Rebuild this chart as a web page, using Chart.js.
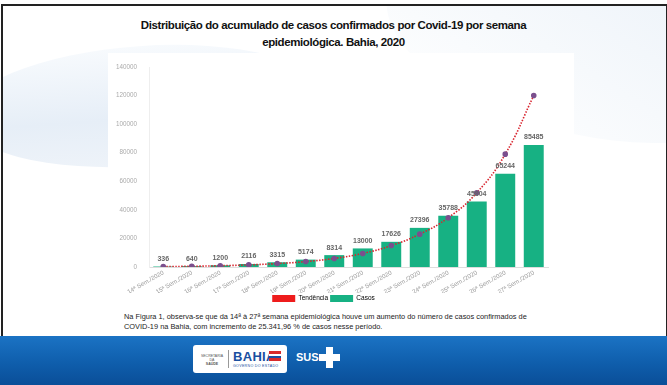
<!DOCTYPE html>
<html>
<head>
<meta charset="utf-8">
<script src="https://cdn.jsdelivr.net/npm/chart.js@4/dist/chart.umd.min.js"></script>
<style>
html,body{margin:0;padding:0;}
body{width:667px;height:385px;position:relative;overflow:hidden;background:#fff;font-family:"Liberation Sans",Arial,sans-serif;}
.frame{position:absolute;left:1px;top:4px;width:663px;height:379px;border:2px solid #222;box-sizing:content-box;overflow:hidden;background:#fff;}
.swoosh1{position:absolute;left:-40px;top:40px;width:360px;height:120px;border-radius:50%;background:linear-gradient(180deg,#f7fafd 0%,#e6eef7 60%,#eef3f9 100%);transform:rotate(-4deg);}
.swoosh2{position:absolute;left:380px;top:-70px;width:420px;height:200px;border-radius:50%;background:linear-gradient(200deg,#e9f0f8 0%,#f6f9fc 60%,#fff 100%);transform:rotate(12deg);}
.white{position:absolute;left:105px;top:47px;width:466px;height:285px;background:#fff;}
.title{position:absolute;left:0;top:17px;width:667px;text-align:center;font-weight:bold;font-size:11.5px;line-height:17px;letter-spacing:-0.4px;color:#111;}
.wrap{position:absolute;left:99px;top:56px;width:460px;height:256px;}
.caption{position:absolute;left:124px;top:312px;width:418px;font-size:7.4px;line-height:10px;color:#222;}
.footer{position:absolute;left:0;top:336px;width:667px;height:49px;background:linear-gradient(180deg,#1b73c4 0%,#0f5eac 55%,#0a4e98 100%);}
.logo{position:absolute;left:193px;top:9px;width:94px;height:28px;background:#fff;border-radius:3px;}
.sec{position:absolute;left:6px;top:9px;font-size:3.5px;color:#555;line-height:4px;text-align:center;width:26px;}
.div{position:absolute;left:35px;top:5px;width:1px;height:18px;background:#999;}
.bahia{position:absolute;left:40px;top:4px;font-weight:bold;font-size:13px;color:#1a4fa0;letter-spacing:0.3px;}
.gov{position:absolute;left:40px;top:19px;font-size:3.6px;color:#1a4fa0;letter-spacing:0.3px;}
.flag{position:absolute;left:76px;top:6px;width:12px;height:10px;background:linear-gradient(180deg,#d92a2a 0 33%,#fff 33% 50%,#1a4fa0 50% 75%,#d92a2a 75%);}
.sus{position:absolute;left:296px;top:15px;font-weight:bold;font-size:11px;color:#fff;}
.cross1{position:absolute;left:326px;top:11px;width:7px;height:21px;background:#fff;}
.cross2{position:absolute;left:319px;top:18px;width:21px;height:7px;background:#fff;}
</style>
</head>
<body>
<div class="frame">
  <div class="swoosh1"></div>
  <div class="swoosh2"></div>
  <div class="white"></div>
</div>
<div class="title">Distribuição do acumulado de casos confirmados por Covid-19 por semana<br>epidemiológica. Bahia, 2020</div>
<div class="wrap"><canvas id="chart"></canvas></div>
<div class="caption">Na Figura 1, observa-se que da 14ª à 27ª semana epidemiológica houve um aumento do número de casos confirmados de<br>COVID-19 na Bahia, com incremento de 25.341,96 % de casos nesse período.</div>
<div class="footer">
  <div class="logo">
    <div class="sec">SECRETARIA DA<br><b>SAÚDE</b></div>
    <div class="div"></div>
    <div class="bahia">BAHIA</div>
    <div class="flag"></div>
    <div class="gov">GOVERNO DO ESTADO</div>
  </div>
  <div class="sus">SUS</div>
  <div class="cross1"></div>
  <div class="cross2"></div>
</div>
<script>
const weeks = ["14ª Sem./2020","15ª Sem./2020","16ª Sem./2020","17ª Sem./2020","18ª Sem./2020","19ª Sem./2020","20ª Sem./2020","21ª Sem./2020","22ª Sem./2020","23ª Sem./2020","24ª Sem./2020","25ª Sem./2020","26ª Sem./2020","27ª Sem./2020"];
const cases = [336,640,1200,2116,3315,5174,8314,13000,17626,27396,35788,45804,65244,85485];
const trend = [300,500,900,1500,2400,3800,6000,9500,15000,23000,34500,52000,79000,120000];
const yTicks = [0,20000,40000,60000,80000,100000,120000,140000];

const barLabels = {
  id:"barLabels",
  afterDatasetsDraw(chart){
    const ctx = chart.ctx;
    const meta = chart.getDatasetMeta(1);
    ctx.save();
    ctx.font = "bold 7px 'Liberation Sans', Arial, sans-serif";
    ctx.fillStyle = "#666";
    ctx.textAlign = "center";
    ctx.textBaseline = "bottom";
    meta.data.forEach((bar,i)=>{
      ctx.fillText(String(cases[i]), bar.x, bar.y - 4);
    });
    ctx.restore();
  }
};

new Chart(document.getElementById("chart"),{
  type:"bar",
  data:{
    labels:weeks,
    datasets:[
      {
        type:"line",
        label:"Tendência",
        data:trend,
        borderColor:"#d8252f",
        backgroundColor:"#ee1c1c",
        borderWidth:1.6,
        borderDash:[1.5,1.5],
        tension:0.45,
        pointRadius:2,
        pointBackgroundColor:"#7b4f8e",
        pointBorderColor:"#7b4f8e",
        order:0
      },
      {
        label:"Casos",
        data:cases,
        backgroundColor:"#17b183",
        barPercentage:0.7,
        categoryPercentage:1,
        order:1
      }
    ]
  },
  options:{
    responsive:true,
    maintainAspectRatio:false,
    animation:false,
    layout:{padding:{top:11,right:11,bottom:0,left:0}},
    plugins:{
      legend:{
        position:"bottom",
        labels:{
          boxWidth:23,
          boxHeight:7,
          padding:2,
          color:"#888",
          font:{size:6.5,family:"'Liberation Sans', Arial, sans-serif"},
          generateLabels(chart){
            return chart.data.datasets.map((d,i)=>({
              text:d.label,
              fillStyle:i===0?"#ee1c1c":"#17b183",
              strokeStyle:i===0?"#ee1c1c":"#17b183",
              lineWidth:0,
              datasetIndex:i
            }));
          }
        }
      },
      tooltip:{enabled:false}
    },
    scales:{
      x:{
        grid:{display:false,drawTicks:false},
        border:{color:"#ddd"},
        afterFit(s){ s.height = 26; },
        ticks:{
          autoSkip:false,
          maxRotation:30,
          minRotation:30,
          padding:2,
          color:"#999",
          font:{size:6.2,family:"'Liberation Sans', Arial, sans-serif"}
        }
      },
      y:{
        min:0,
        max:140000,
        grid:{display:false},
        border:{color:"#eee"},
        afterFit(s){ s.width = 50; },
        afterBuildTicks(s){ s.ticks = yTicks.map(v=>({value:v})); },
        ticks:{
          padding:4,
          color:"#aaa",
          font:{size:6.3,family:"'Liberation Sans', Arial, sans-serif"},
          callback:v=>String(v)
        }
      }
    }
  },
  plugins:[barLabels]
});
</script>
</body>
</html>
